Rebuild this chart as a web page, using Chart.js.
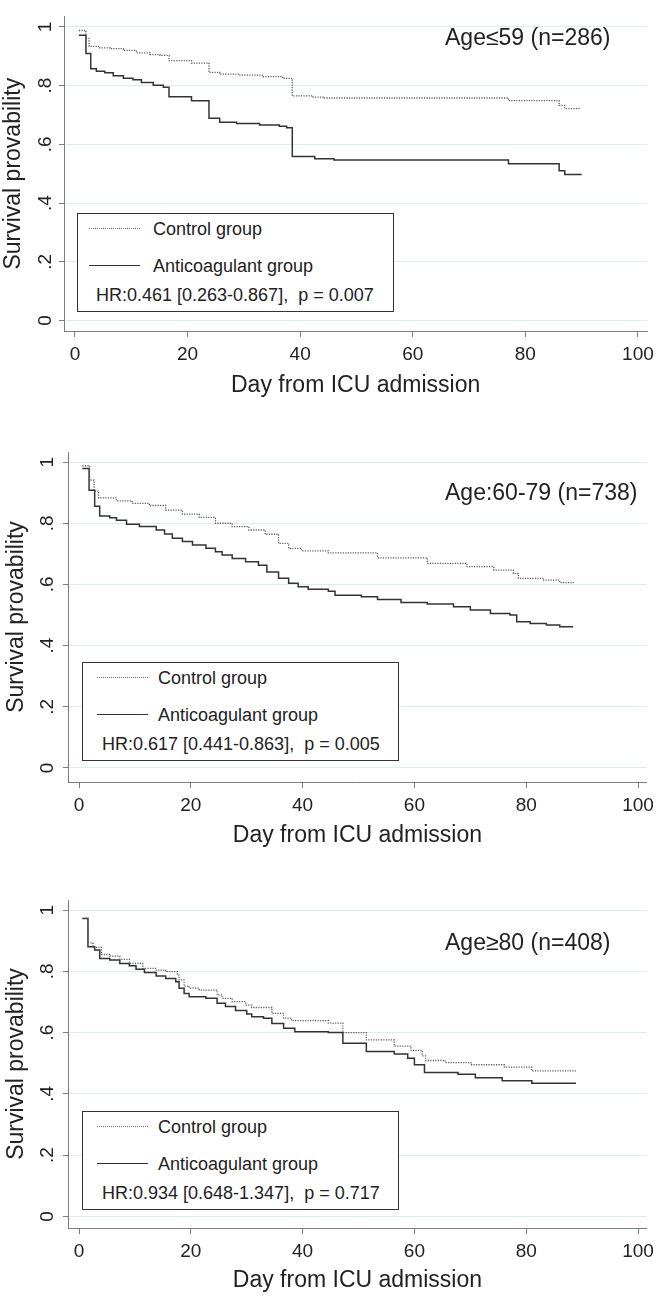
<!DOCTYPE html>
<html>
<head>
<meta charset="utf-8">
<script src="https://cdn.jsdelivr.net/npm/chart.js@4"></script>
<style>
  body { margin: 0; background: #fff; }
  #wrap { position: relative; width: 660px; height: 1297px; font-family: 'Liberation Sans', Arial, sans-serif; color: #222; }
  canvas { position: absolute; left: 0; }
  .ttl { position: absolute; left: 445px; font-size: 23px; line-height: 28px; white-space: nowrap; }
  .leg { position: absolute; border: 1px solid #333; box-sizing: border-box; width: 317px; height: 99px; background: #fff; }
  .leg span { position: absolute; font-size: 18px; line-height: 22px; white-space: pre; }
  .leg i { position: absolute; width: 51px; height: 0; }
  .dot { border-top: 1.5px dotted #777; }
  .sol { border-top: 1.5px solid #333; }
</style>
</head>
<body>
<div id="wrap">
  <canvas id="c1" width="660" height="400" style="top:0px"></canvas>
  <canvas id="c2" width="660" height="420" style="top:430px"></canvas>
  <canvas id="c3" width="660" height="437" style="top:860px"></canvas>
</div>
<script>
// x and y ticks
const xTicks = [0, 20, 40, 60, 80, 100];
const yTicks = [0, 0.2, 0.4, 0.6, 0.8, 1];
const yTickLabels = ['0', '.2', '.4', '.6', '.8', '1'];
const seriesNames = ['Control group', 'Anticoagulant group'];

// Age<=59
const ctrl1Days = [0.7, 1.95, 2.5, 4.4, 6.2, 8.6, 10.9, 13.3, 15.1, 16.7, 20.7, 23.8, 25.7, 29.3, 33.4, 36.9, 38.6, 42.3, 44.3, 77, 86, 87, 89.8];
const ctrl1Surv = [0.988, 0.961, 0.934, 0.929, 0.926, 0.92, 0.912, 0.906, 0.903, 0.885, 0.877, 0.845, 0.839, 0.836, 0.831, 0.825, 0.765, 0.761, 0.758, 0.749, 0.733, 0.722, 0.722];
const anti1Days = [0.7, 1.95, 2.8, 3.8, 5.3, 6.8, 8.6, 10.3, 11.8, 13.9, 15.7, 16.7, 20.7, 23.8, 25.7, 28.7, 32.8, 36.3, 37.6, 38.6, 42.6, 46, 77, 86, 87, 90];
const anti1Surv = [0.972, 0.91, 0.858, 0.849, 0.844, 0.834, 0.825, 0.82, 0.811, 0.801, 0.795, 0.762, 0.749, 0.689, 0.675, 0.671, 0.666, 0.662, 0.657, 0.559, 0.551, 0.547, 0.534, 0.51, 0.497, 0.497];

// Age 60-79
const ctrl2Days = [0.6, 1.9, 2.7, 3.5, 6.7, 9.5, 12.6, 15.5, 18.5, 21.5, 24.4, 27.4, 30.4, 33.3, 35.7, 37.5, 39.8, 44.6, 53.4, 62.3, 69.4, 74.2, 77.7, 78.6, 83, 86, 88.5];
const ctrl2Surv = [0.988, 0.941, 0.906, 0.883, 0.873, 0.865, 0.858, 0.843, 0.83, 0.819, 0.8, 0.789, 0.778, 0.764, 0.734, 0.718, 0.71, 0.703, 0.687, 0.669, 0.658, 0.647, 0.636, 0.62, 0.614, 0.606, 0.606];
const anti2Days = [0.6, 1.8, 2.8, 3.7, 5.5, 6.7, 8.5, 10.8, 13.8, 15.3, 16.7, 18.5, 20.3, 22.7, 24.4, 25.6, 27.4, 29.8, 32.1, 33.6, 35.7, 37.5, 39.2, 41, 44.6, 45.8, 50.5, 53.4, 57.6, 62.3, 67, 70, 73.6, 77.1, 78.3, 80.7, 83.6, 86, 88.4];
const anti2Surv = [0.979, 0.908, 0.856, 0.824, 0.818, 0.81, 0.797, 0.789, 0.778, 0.765, 0.751, 0.74, 0.729, 0.718, 0.707, 0.696, 0.685, 0.674, 0.663, 0.641, 0.62, 0.604, 0.592, 0.584, 0.578, 0.565, 0.56, 0.551, 0.541, 0.536, 0.527, 0.516, 0.505, 0.5, 0.478, 0.472, 0.467, 0.462, 0.462];

// Age>=80
const ctrl3Days = [0.6, 1.6, 2.5, 4, 5.5, 7.3, 9.0, 11.4, 13.8, 15.5, 17.6, 17.9, 18.8, 19.7, 21.5, 24.7, 25.6, 27.4, 29.8, 30.9, 34.5, 36.6, 38, 44.6, 47.2, 51.4, 56.4, 59.4, 61.4, 62, 65.5, 70.1, 76.1, 81, 88.9];
const ctrl3Surv = [0.973, 0.893, 0.878, 0.855, 0.85, 0.839, 0.826, 0.81, 0.804, 0.799, 0.788, 0.772, 0.752, 0.745, 0.739, 0.723, 0.712, 0.701, 0.69, 0.682, 0.663, 0.647, 0.639, 0.631, 0.6, 0.576, 0.556, 0.542, 0.524, 0.509, 0.502, 0.495, 0.487, 0.475, 0.475];
const anti3Days = [0.6, 1.6, 2.8, 3.7, 5.5, 7.3, 9.0, 10.2, 11.7, 13.8, 15.5, 17.3, 17.9, 18.8, 19.7, 22.7, 24.7, 26.2, 28, 30, 30.9, 33, 34.5, 36.6, 38.6, 44.6, 47.2, 51.4, 56.4, 58.8, 60, 61.8, 67.8, 70.9, 75.7, 81, 88.9];
const anti3Surv = [0.973, 0.88, 0.87, 0.842, 0.837, 0.826, 0.818, 0.807, 0.796, 0.785, 0.777, 0.766, 0.745, 0.728, 0.717, 0.712, 0.696, 0.685, 0.672, 0.661, 0.652, 0.647, 0.63, 0.614, 0.603, 0.6, 0.565, 0.538, 0.53, 0.516, 0.495, 0.47, 0.464, 0.453, 0.443, 0.435, 0.435];

const titles = ['Age≤59 (n=286)', 'Age:60-79 (n=738)', 'Age≥80 (n=408)'];
const hrTexts = ['HR:0.461 [0.263-0.867],  p = 0.007', 'HR:0.617 [0.441-0.863],  p = 0.005', 'HR:0.934 [0.648-1.347],  p = 0.717'];

const FONT = "'Liberation Sans', Arial, sans-serif";
const axisColor = '#7d7d7d';
const gridColor = '#deecee';
const textColor = '#222';

// layout of each panel, in page pixels
const panels = [
  { id: 'c1', top: 0, h: 400, padTop: 2, left: 64, right: 648, xH: 69, xMin: -1.95, xMax: 101.65, yMin: -0.036, yMax: 1.036, yTickPad: 5, yTitlePad: 0, xTitlePad: 1,
    ctrlD: ctrl1Days, ctrlS: ctrl1Surv, antiD: anti1Days, antiS: anti1Surv, titleY: 23, legL: 77, legT: 213, sampL: 11, hrL: 18 },
  { id: 'c2', top: 430, h: 420, padTop: 22, left: 68, right: 651, xH: 68, xMin: -1.97, xMax: 101.58, yMin: -0.046, yMax: 1.033, yTickPad: 7, yTitlePad: 3, xTitlePad: 1,
    ctrlD: ctrl2Days, ctrlS: ctrl2Surv, antiD: anti2Days, antiS: anti2Surv, titleY: 478, legL: 82, legT: 662, sampL: 14, hrL: 19 },
  { id: 'c3', top: 860, h: 437, padTop: 40, left: 68, right: 651, xH: 69, xMin: -1.97, xMax: 101.58, yMin: -0.038, yMax: 1.033, yTickPad: 7, yTitlePad: 3, xTitlePad: 3,
    ctrlD: ctrl3Days, ctrlS: ctrl3Surv, antiD: anti3Days, antiS: anti3Surv, titleY: 928, legL: 82, legT: 1111, sampL: 14, hrL: 19 }
];

function toPoints(days, surv) {
  return days.map((d, i) => ({ x: d, y: surv[i] }));
}

function makePanel(p, idx) {
  new Chart(document.getElementById(p.id), {
    type: 'scatter',
    data: {
      datasets: [
        { label: seriesNames[0], data: toPoints(p.ctrlD, p.ctrlS), showLine: true, stepped: 'before',
          borderColor: '#5a5a5a', borderWidth: 1.3, borderDash: [1.2, 1.3], pointRadius: 0 },
        { label: seriesNames[1], data: toPoints(p.antiD, p.antiS), showLine: true, stepped: 'before',
          borderColor: '#333', borderWidth: 1.5, pointRadius: 0 }
      ]
    },
    options: {
      responsive: false,
      animation: false,
      layout: { padding: { top: p.padTop, right: 660 - p.right, bottom: 0, left: 0 } },
      plugins: { legend: { display: false }, tooltip: { enabled: false } },
      scales: {
        x: {
          type: 'linear', min: p.xMin, max: p.xMax,
          afterBuildTicks: s => { s.ticks = xTicks.map(v => ({ value: v })); },
          afterFit: s => { s.height = p.xH; },
          grid: { drawOnChartArea: false, tickLength: 6, color: axisColor, tickColor: axisColor },
          border: { color: axisColor, width: 1 },
          ticks: { font: { family: FONT, size: 19 }, color: textColor, padding: 6, maxRotation: 0, autoSkip: false },
          title: { display: true, text: 'Day from ICU admission', font: { family: FONT, size: 23 }, color: textColor, padding: { top: 0, bottom: p.xTitlePad } }
        },
        y: {
          type: 'linear', min: p.yMin, max: p.yMax,
          afterBuildTicks: s => { s.ticks = yTicks.map(v => ({ value: v })); },
          afterFit: s => { s.width = p.left; },
          grid: { color: gridColor, tickColor: axisColor, tickLength: 5 },
          border: { color: axisColor, width: 1 },
          ticks: { font: { family: FONT, size: 19 }, color: textColor, padding: p.yTickPad, minRotation: 90, maxRotation: 90,
            crossAlign: 'center', autoSkip: false, callback: v => yTickLabels[yTicks.indexOf(v)] },
          title: { display: true, text: 'Survival provability', font: { family: FONT, size: 23 }, color: textColor, padding: { top: p.yTitlePad, bottom: 0 } }
        }
      }
    }
  });

  const wrap = document.getElementById('wrap');
  const t = document.createElement('div');
  t.className = 'ttl';
  t.style.top = p.titleY + 'px';
  t.textContent = titles[idx];
  wrap.appendChild(t);

  const leg = document.createElement('div');
  leg.className = 'leg';
  leg.style.left = p.legL + 'px';
  leg.style.top = p.legT + 'px';
  leg.innerHTML =
    '<i class="dot" style="left:' + p.sampL + 'px;top:14px"></i>' +
    '<span style="left:75px;top:4px">' + seriesNames[0] + '</span>' +
    '<i class="sol" style="left:' + p.sampL + 'px;top:51px"></i>' +
    '<span style="left:75px;top:41px">' + seriesNames[1] + '</span>' +
    '<span style="left:' + p.hrL + 'px;top:70px">' + hrTexts[idx] + '</span>';
  wrap.appendChild(leg);
}

panels.forEach(makePanel);
</script>
</body>
</html>
